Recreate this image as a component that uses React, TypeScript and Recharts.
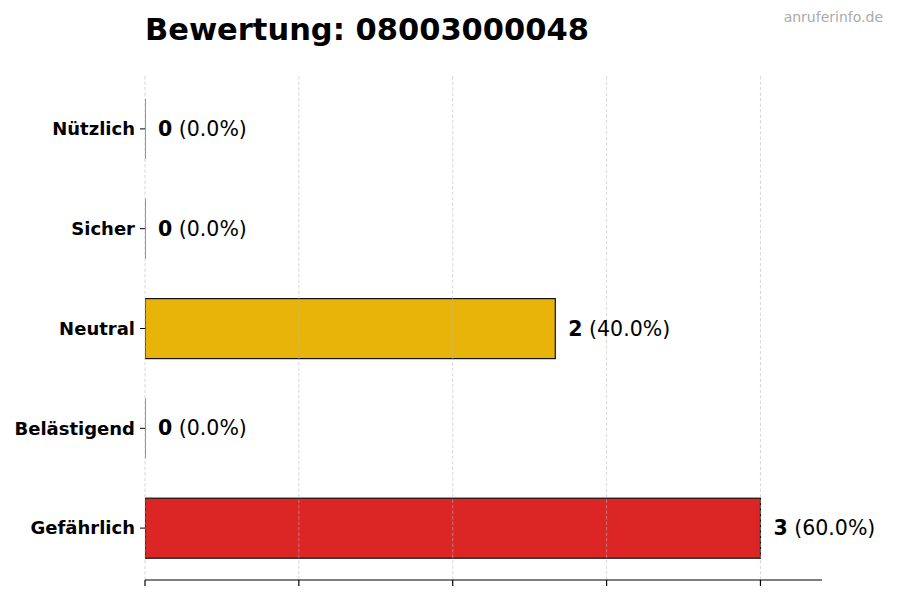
import React from "react";
import { BarChart, Bar, XAxis, YAxis, ReferenceLine, LabelList, Cell } from "recharts";

const categories = ["Nützlich", "Sicher", "Neutral", "Belästigend", "Gefährlich"];
const counts = [0, 0, 2, 0, 3];
const percents = [0.0, 0.0, 40.0, 0.0, 60.0];
const colors = ["#22A045", "#3B82F6", "#E8B40A", "#F07B1A", "#DC2626"];
const xTicks = [0, 0.75, 1.5, 2.25, 3.0];
const xMax = 3.3;

const data = categories.map((c, i) => ({ name: c, value: counts[i], pct: percents[i], color: colors[i] }));

const FONT = "'DejaVu Sans', sans-serif";

const BarShape = (props: any) => {
  const { x, y, width, height, payload } = props;
  if (!width || width <= 0.5) {
    return <line x1={x} x2={x} y1={y} y2={y + height} stroke="#222" strokeWidth={1} />;
  }
  return <rect x={x} y={y} width={width} height={height} fill={payload.color} stroke="#111" strokeWidth={1.2} />;
};

const ValueLabel = (props: any) => {
  const { x, y, width, height, index } = props;
  const d = data[index];
  return (
    <text x={x + width + 13} y={y + height / 2} dominantBaseline="central" fontFamily={FONT} fontSize={20.5} fill="#000">
      <tspan fontWeight="bold">{d.value}</tspan>
      <tspan> ({d.pct.toFixed(1)}%)</tspan>
    </text>
  );
};

export default function App() {
  return (
    <div style={{ position: "absolute", left: 0, top: 0, width: 900, height: 600, background: "#fff" }}>
      <div style={{ position: "absolute", left: 145, top: 12, fontFamily: FONT, fontWeight: "bold", fontSize: 30.5, color: "#000", whiteSpace: "nowrap", lineHeight: 1.2 }}>
        Bewertung: 08003000048
      </div>
      <div style={{ position: "absolute", right: 17, top: 9, fontFamily: FONT, fontSize: 14, color: "#aaaaaa" }}>
        anruferinfo.de
      </div>
      <BarChart
        width={900}
        height={600}
        layout="vertical"
        data={data}
        margin={{ top: 76, right: 78, bottom: 14, left: 0 }}
        barCategoryGap={0}
      >
        <XAxis
          type="number"
          domain={[0, xMax]}
          ticks={xTicks}
          allowDataOverflow
          tickFormatter={() => ""}
          tickSize={6}
          height={6}
          axisLine={{ stroke: "#000", strokeWidth: 1.2 }}
          tickLine={{ stroke: "#000", strokeWidth: 1.2 }}
        />
        <YAxis
          type="category"
          dataKey="name"
          width={145}
          axisLine={false}
          tickLine={{ stroke: "#000" }}
          tickSize={5}
          tickMargin={5}
          padding={{ top: 3, bottom: 2 }}
          tick={{ fontFamily: FONT, fontSize: 18, fontWeight: "bold", fill: "#000" }}
        />
        <Bar dataKey="value" barSize={60} isAnimationActive={false} shape={BarShape}>
          {data.map((d, i) => (
            <Cell key={i} fill={d.color} />
          ))}
          <LabelList dataKey="value" content={ValueLabel} />
        </Bar>
        {xTicks.map((t) => (
          <ReferenceLine key={t} x={t} stroke="#b8b8b8" strokeOpacity={0.6} strokeDasharray="3.5 2" strokeWidth={0.9} />
        ))}
      </BarChart>
    </div>
  );
}
